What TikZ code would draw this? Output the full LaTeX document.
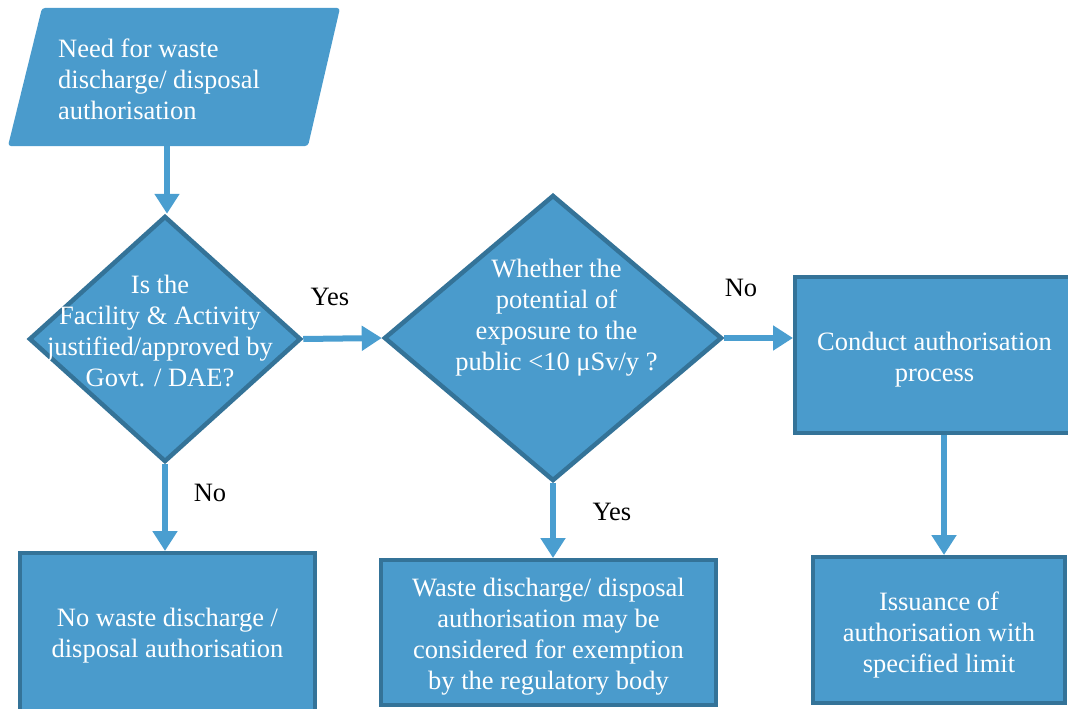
\documentclass[tikz,border=0pt]{standalone}
\usepackage{fontspec}
\setmainfont{Liberation Serif}
\usetikzlibrary{shapes.geometric,arrows.meta}
\definecolor{boxfill}{RGB}{74,155,204}
\definecolor{boxline}{RGB}{52,115,152}
\definecolor{arrcol}{RGB}{74,158,208}
\begin{document}
\begin{tikzpicture}[x=1pt,y=-1pt,
  txt/.style={font=\fontsize{26.5}{31}\selectfont, text=white, align=center, inner sep=0pt},
  lbl/.style={font=\fontsize{26.5}{31}\selectfont, text=black, inner sep=0pt},
  procbox/.style={rectangle, draw=boxline, fill=boxfill, line width=4pt, inner sep=0pt},
  decbox/.style={diamond, draw=boxline, fill=boxfill, line width=4.5pt, inner sep=0pt},
  arr/.style={draw=arrcol, line width=6pt, -{Triangle[length=20pt,width=24pt]}}]
\useasboundingbox (0,0) rectangle (1068,709);
\clip (0,0) rectangle (1068,709);

% start parallelogram
\fill[boxfill, rounded corners=3pt] (42,8) -- (340,8) -- (308,146) -- (8,146) -- cycle;
\node[txt, align=left, anchor=west] (need) at (58,79) {Need for waste\\discharge/ disposal\\authorisation};
\coordinate (needout) at (167,146);

% decisions
\node[decbox, minimum width=272pt, minimum height=246pt] (d1) at (165,339) {};
\node[txt] (d1t) at (160,331) {Is the\\Facility \& Activity\\justified/approved by\\Govt. / DAE?};
\node[decbox, minimum width=338pt, minimum height=286pt] (d2) at (553,338) {};
\node[txt] (d2t) at (556.5,318) {Whether the\\potential of\\exposure to the\\public <10 μSv/y ?};

% process boxes
\node[procbox, minimum width=279pt, minimum height=156pt] (b3) at (934.5,355) {};
\node[txt] (b3t) at (934.5,360) {Conduct authorisation\\process};
\node[procbox, minimum width=295pt, minimum height=159pt] (b4) at (167.5,632.5) {};
\node[txt] (b4t) at (167.5,635.5) {No waste discharge /\\disposal authorisation};
\node[procbox, minimum width=335pt, minimum height=145pt] (b5) at (548.5,632.5) {};
\node[txt] (b5t) at (548.5,637) {Waste discharge/ disposal\\authorisation may be\\considered for exemption\\by the regulatory body};
\node[procbox, minimum width=252pt, minimum height=146pt] (b6) at (939,630) {};
\node[txt] (b6t) at (939,635) {Issuance of\\authorisation with\\specified limit};

% connectors
\draw[arr] (needout) -- (needout |- d1.north);
\draw[arr] (d1.east) -- (d2.west);
\draw[arr] (d2.east) -- (d2.east -| b3.west);
\draw[arr] (d1.south) -- (d1.south |- b4.north);
\draw[arr] (d2.south) -- (d2.south |- b5.north);
\draw[arr] ([xshift=9.5pt]b3.south) -- ([xshift=9.5pt]b3.south |- b6.north);

% labels
\node[lbl] (yes1) at (330,297) {Yes};
\node[lbl] (no1) at (741,288) {No};
\node[lbl] (no2) at (210,493) {No};
\node[lbl] (yes2) at (612,512) {Yes};
\end{tikzpicture}
\end{document}
